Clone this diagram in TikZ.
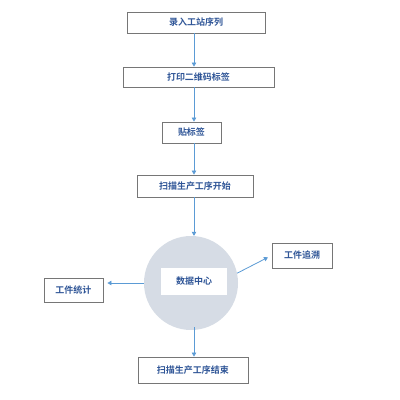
\documentclass[tikz,border=0pt]{standalone}
\usepackage{fontspec}
\newfontfamily\cjk{Noto Sans CJK SC}[BoldFont={Noto Sans CJK SC Bold}]
\usetikzlibrary{arrows.meta,calc}
\definecolor{arrowblue}{HTML}{5B9BD5}
\definecolor{txtblue}{HTML}{2F5597}
\definecolor{boxgray}{HTML}{767676}
\definecolor{circfill}{HTML}{D6DCE5}
\begin{document}
\begin{tikzpicture}[x=1pt,y=-1pt,
  stepbox/.style={draw=boxgray,line width=0.9pt,fill=white,inner sep=0pt,
    font=\cjk\bfseries\fontsize{9}{11}\selectfont,text=txtblue},
  flow/.style={draw=arrowblue,line width=0.8pt,-{Triangle[length=4pt,width=4.5pt]}}]
\useasboundingbox (0,0) rectangle (400,400);
\fill[white] (0,0) rectangle (400,400);
\coordinate (col) at (194,0);
\node[stepbox,minimum width=138pt,minimum height=21pt] (b1) at (196,22.5) {录入工站序列};
\node[stepbox,minimum width=151pt,minimum height=20pt] (b2) at (198.5,77) {打印二维码标签};
\node[stepbox,minimum width=59pt,minimum height=21pt] (b3) at (191.5,132.5) {贴标签};
\node[stepbox,minimum width=116pt,minimum height=22pt] (b4) at (195,186) {扫描生产工序开始};
\node[circle,fill=circfill,minimum size=94pt,inner sep=0pt] (dc) at (191,283) {};
\node[fill=white,minimum width=66pt,minimum height=27pt,inner sep=0pt,
  font=\cjk\bfseries\fontsize{9}{11}\selectfont,text=txtblue] (dct) at (194,281.5) {数据中心};
\node[stepbox,minimum width=59pt,minimum height=24pt] (st) at (73.5,290) {工件统计};
\node[stepbox,minimum width=60pt,minimum height=25pt] (tr) at (302,255.5) {工件追溯};
\node[stepbox,minimum width=110pt,minimum height=26pt] (b5) at (193,370) {扫描生产工序结束};
\draw[flow] (b1.south -| col) -- (b2.north -| col);
\draw[flow] (b2.south -| col) -- (b3.north -| col);
\draw[flow] (b3.south -| col) -- (b4.north -| col);
\draw[flow] (b4.south -| col) -- (dc.north -| col);
\draw[flow] ($(dc.south -| col)+(0,-3)$) -- (b5.north -| col);
\draw[flow,shorten >=4pt] (dc.west) -- (st.east |- dc.west);
\draw[flow,shorten >=4pt] (dc.12) -- (tr.west);
\end{tikzpicture}
\end{document}
